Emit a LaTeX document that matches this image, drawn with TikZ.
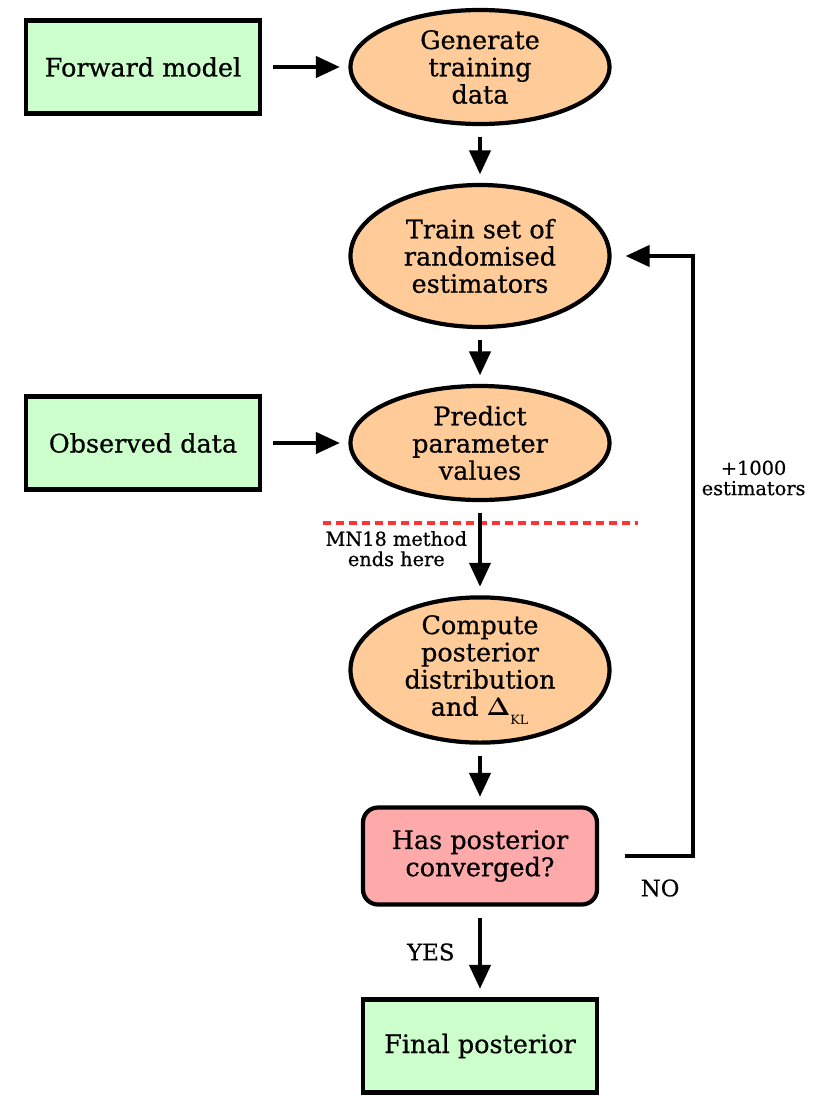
\documentclass[tikz,border=0pt]{standalone}
\usepackage{xcolor}
\usepackage{amsmath}
\usepackage{fontspec}
\setmainfont{DejaVu Serif}[BoldFont = DejaVu Serif, BoldFeatures = {FakeBold = 0.6}]
\newcommand{\mainsize}{\fontsize{14.5}{15.5}\selectfont\bfseries}
\newcommand{\notesize}{\fontsize{11}{11.5}\selectfont\bfseries}
\newcommand{\answersize}{\fontsize{13}{14}\selectfont\bfseries}
\definecolor{inputgreen}{HTML}{CCFFCC}
\definecolor{processorange}{HTML}{FFCC99}
\definecolor{checkpink}{HTML}{FFAAAA}
\definecolor{cutred}{HTML}{FF3333}
\usepackage{tikz}
\usetikzlibrary{arrows.meta,shapes,positioning}
\tikzset{
  every picture/.style = {
    line width = 2.4pt,
    >={Triangle[length=0.48cm,width=0.42cm]},
    node distance = 3.78cm and 6.74cm,
    on grid
  }
  , % green boxes: inputs and result
  data/.style = {
    rectangle,
    draw,
    fill = inputgreen,
    minimum width = 4.68cm,
    minimum height = 1.86cm,
    font = \mainsize
  }
  , % orange ellipses: steps of the method
  process/.style = {
    ellipse,
    draw,
    fill = processorange,
    minimum width = 5.18cm,
    minimum height = 2.28cm,
    inner sep = 0pt,
    align = center,
    font = \mainsize
  }
  ,
  check/.style = {
    rectangle,
    rounded corners = 0.3cm,
    draw,
    fill = checkpink,
    minimum width = 4.68cm,
    minimum height = 1.94cm,
    align = center,
    font = \mainsize
  }
  ,
  flow/.style = {
    ->,
    shorten < = 0.22cm,
    shorten > = 0.17cm
  }
  , % labels of edges
  label-edge/.style = {
    font = \notesize,
    align = center
  }
  ,
  label-answer/.style = {
    font = \answersize
  }
  ,
  cut-line/.style = {
    draw = cutred,
    line width = 2pt,
    dash pattern = on 0.16cm off 0.1cm
  }
}

\begin{document}
\begin{tikzpicture}
    \useasboundingbox (-9.6,1.34) rectangle (7.0,-20.8);
    \node [process] (gen) {Generate\\training\\data};
    \node [data, left = of gen] (fwd) {Forward model};
    \node [process, minimum height = 2.84cm, below = of gen] (train) {Train set of\\randomised\\estimators};
    \node [process, below = 3.74cm of train] (predict) {Predict\\parameter\\values};
    \node [data, left = of predict] (obs) {Observed data};
    \node [process, minimum height = 2.88cm, inner ysep = -2pt, below = 4.54cm of predict] (post) {Compute\\posterior\\distribution\\and $\boldsymbol{\Delta}_{\raisebox{-0.4ex}{$\scriptscriptstyle\mathrm{KL}$}}$};
    \node [check, below = 3.72cm of post] (conv) {Has posterior\\converged?};
    \node [data, below = 3.8cm of conv] (final) {Final posterior};
    % where the MN18 method stops
    \coordinate (cut-l) at ([xshift=-3.14cm, yshift=-0.42cm]predict.south);
    \coordinate (cut-r) at ([xshift=3.16cm, yshift=-0.42cm]predict.south);
    \draw [cut-line] (cut-l) -- (cut-r);
    \path [flow] (fwd) edge (gen)
                 (gen) edge (train)
                 (train) edge (predict)
                 (obs) edge (predict)
                 (predict) edge node [label-edge, left = 0.1cm] {MN18 method\\ends here} (post)
                 (post) edge (conv)
                 (conv) edge node [label-answer, left = 0.35cm] {YES} (final);
    % loop back when not converged
    \draw [flow, shorten < = 0.52cm, shorten > = 0.28cm] (conv.east) -- ++(1.88cm,0) coordinate (loop) |- (train.east);
    \node [label-answer] (no) at ([xshift=1.22cm, yshift=-0.64cm]conv.east) {NO};
    \node [label-edge] (add) at ([xshift=2.84cm, yshift=-0.7cm]predict.east) {+1000\\estimators};
\end{tikzpicture}
\end{document}
